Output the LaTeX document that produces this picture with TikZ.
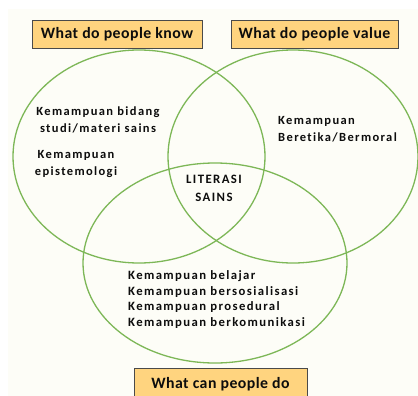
\documentclass[tikz,border=0pt]{standalone}
\usepackage{fontspec}
\setmainfont{Carlito}
\newfontfamily\bodyfont{Carlito}[LetterSpace=11,Ligatures={NoCommon}]
\newfontfamily\headfont{Carlito}[LetterSpace=3,Ligatures={NoCommon}]
\definecolor{paper}{HTML}{FDFDF7}
\definecolor{ring}{HTML}{7DB757}
\definecolor{tag}{HTML}{FFD47F}
\definecolor{tagedge}{HTML}{4A4A4A}
\definecolor{ink}{HTML}{0D0D0D}
\begin{document}
\begin{tikzpicture}[x=1pt,y=-1pt,
  setring/.style={draw=ring,line width=1.3pt},
  tagbox/.style={draw=tagedge,fill=tag,line width=0.8pt,minimum height=28pt,
    inner sep=0pt,font=\headfont\bfseries\fontsize{15.8}{17}\selectfont,text=ink},
  label/.style={font=\bodyfont\bfseries\fontsize{12.5}{16.5}\selectfont,text=ink,inner sep=0pt}]
\useasboundingbox (0,0) rectangle (418,396);
% page tint
\fill[paper] (8,9) rectangle (418,396);

% the three sets
\draw[setring] (139,156.5) ellipse [x radius=126pt, y radius=106.5pt];
\draw[setring] (293,156.5) ellipse [x radius=125pt, y radius=106.5pt];
\draw[setring] (215,263) ellipse [x radius=132pt, y radius=100pt];

% headings
\node[tagbox,minimum width=170pt] (know) at (117,34) {What do people know};
\node[tagbox,minimum width=167pt] (value) at (314.5,34) {What do people value};
\node[tagbox,minimum width=173pt,minimum height=32pt,text depth=0pt] (can) at (220.5,384) {\raisebox{2pt}{What can people do}};

% contents of each set
\node[label,align=center] (subj) at (98,120) {Kemampuan bidang\\studi/materi sains};
\node[label,align=center] (epis) at (76,164) {Kemampuan\\epistemologi};
\node[label,align=left,anchor=west] (moral) at (278,129) {Kemampuan\\Beretika/Bermoral};
\node[label,align=center,font=\bodyfont\bfseries\fontsize{12.8}{18}\selectfont] (core) at (214,188) {LITERASI\\SAINS};
\node[label,align=left,anchor=west,font=\bodyfont\bfseries\fontsize{12.7}{15.6}\selectfont] (skills) at (128,299.5)
  {Kemampuan belajar\\Kemampuan bersosialisasi\\Kemampuan prosedural\\Kemampuan berkomunikasi};
\end{tikzpicture}
\end{document}
